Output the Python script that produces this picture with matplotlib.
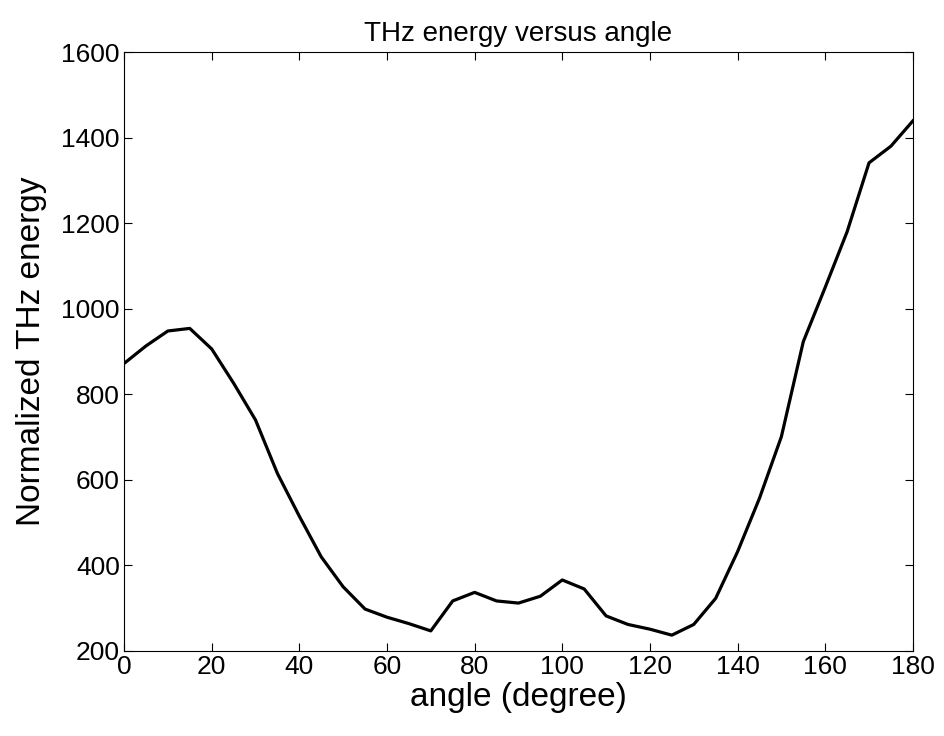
import matplotlib
matplotlib.use("Agg")
import matplotlib.pyplot as plt

plt.rcParams['font.family'] = ['Liberation Sans', 'DejaVu Sans']

# angle in degrees, step 5
angle = list(range(0, 181, 5))
energy = [872, 913, 948, 954, 906, 826, 740, 615, 515, 420,
          350, 298, 279, 264, 247, 317, 337, 317, 312, 328,
          366, 345, 282, 262, 251, 237, 262, 323, 432, 557,
          701, 923, 1050, 1180, 1341, 1380, 1439]

fig = plt.figure(figsize=(9.44, 7.36), dpi=100)
ax = fig.add_axes([0.1314, 0.1155, 0.8356, 0.8138])

ax.plot(angle, energy, color='black', linewidth=2.3)

ax.set_xlim(0, 180)
ax.set_ylim(200, 1600)
ax.set_xticks(range(0, 181, 20))
ax.set_yticks(range(200, 1601, 200))
ax.tick_params(direction='in', top=True, right=True, labelsize=19,
               length=6, width=0.8, pad=3)
for s in ax.spines.values():
    s.set_linewidth(0.8)

ax.set_title('THz energy versus angle', fontsize=20, pad=8)
ax.set_xlabel('angle (degree)', fontsize=24, labelpad=2)
ax.set_ylabel('Normalized THz energy', fontsize=24, labelpad=10)

fig.savefig('out.png', dpi=100)
